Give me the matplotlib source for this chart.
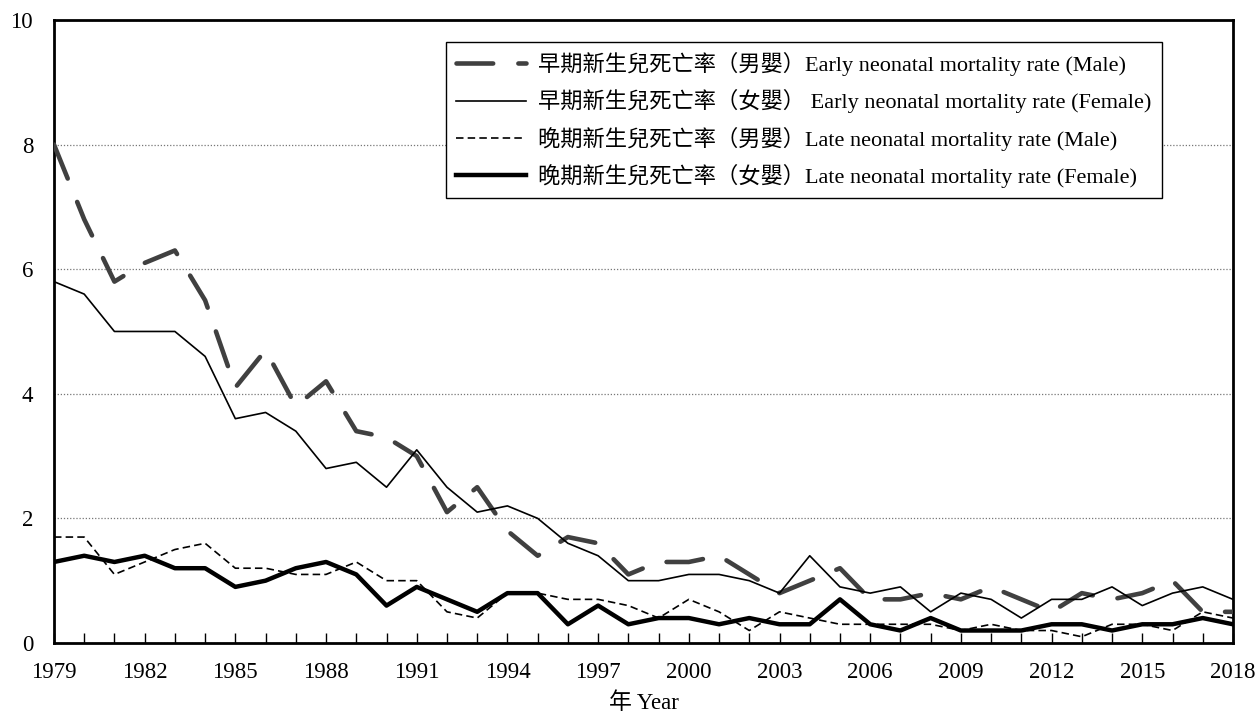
"""early and late neonatal mortality rate by sex, 1979-2018"""
import matplotlib
matplotlib.use("Agg")
import matplotlib.pyplot as plt
from matplotlib.ticker import MultipleLocator

years = list(range(1979, 2019))

early_male = [8.0, 6.8, 5.8, 6.1, 6.3, 5.5, 4.1, 4.7, 3.8, 4.2,
              3.4, 3.3, 3.0, 2.1, 2.5, 1.8, 1.4, 1.7, 1.6, 1.1,
              1.3, 1.3, 1.4, 1.1, 0.8, 1.0, 1.2, 0.7, 0.7, 0.8,
              0.7, 0.9, 0.7, 0.5, 0.8, 0.7, 0.8, 1.0, 0.5, 0.5]
early_female = [5.8, 5.6, 5.0, 5.0, 5.0, 4.6, 3.6, 3.7, 3.4, 2.8,
                2.9, 2.5, 3.1, 2.5, 2.1, 2.2, 2.0, 1.6, 1.4, 1.0,
                1.0, 1.1, 1.1, 1.0, 0.8, 1.4, 0.9, 0.8, 0.9, 0.5,
                0.8, 0.7, 0.4, 0.7, 0.7, 0.9, 0.6, 0.8, 0.9, 0.7]
late_male = [1.7, 1.7, 1.1, 1.3, 1.5, 1.6, 1.2, 1.2, 1.1, 1.1,
             1.3, 1.0, 1.0, 0.5, 0.4, 0.8, 0.8, 0.7, 0.7, 0.6,
             0.4, 0.7, 0.5, 0.2, 0.5, 0.4, 0.3, 0.3, 0.3, 0.3,
             0.2, 0.3, 0.2, 0.2, 0.1, 0.3, 0.3, 0.2, 0.5, 0.4]
late_female = [1.3, 1.4, 1.3, 1.4, 1.2, 1.2, 0.9, 1.0, 1.2, 1.3,
               1.1, 0.6, 0.9, 0.7, 0.5, 0.8, 0.8, 0.3, 0.6, 0.3,
               0.4, 0.4, 0.3, 0.4, 0.3, 0.3, 0.7, 0.3, 0.2, 0.4,
               0.2, 0.2, 0.2, 0.3, 0.3, 0.2, 0.3, 0.3, 0.4, 0.3]

labels = [
    "早期新生兒死亡率（男嬰）Early neonatal mortality rate (Male)",
    "早期新生兒死亡率（女嬰） Early neonatal mortality rate (Female)",
    "晚期新生兒死亡率（男嬰）Late neonatal mortality rate (Male)",
    "晚期新生兒死亡率（女嬰）Late neonatal mortality rate (Female)",
]
xtick_years = list(range(1979, 2019, 3))

fonts = ["Liberation Serif", "Noto Sans CJK TC", "DejaVu Sans"]
plt.rcParams["font.family"] = fonts

fig = plt.figure(figsize=(12.58, 7.18), dpi=100)
ax = fig.add_axes([0.0429, 0.1045, 0.9372, 0.8677])

ax.plot(years, early_male, color="#404040", lw=3.3, dashes=(8.0, 5.5),
        dash_capstyle="round", label=labels[0], zorder=3)
ax.plot(years, early_female, color="black", lw=1.2, label=labels[1], zorder=3)
ax.plot(years, late_male, color="black", lw=1.2, dashes=(4.5, 2.5),
        label=labels[2], zorder=3)
ax.plot(years, late_female, color="black", lw=3.2, label=labels[3], zorder=3)

ax.set_xlim(1979, 2018)
ax.set_ylim(0, 10)
ax.set_xticks(xtick_years)
ax.xaxis.set_minor_locator(MultipleLocator(1))
ax.yaxis.set_major_locator(MultipleLocator(2))
ax.tick_params(axis="x", which="both", direction="in", length=7, width=1,
               labelsize=16.5, pad=13.5)
ax.tick_params(axis="y", length=0, labelsize=16.5, pad=15)
ax.grid(axis="y", linestyle=(0, (1, 1.5)), color="#777777", lw=0.9)
for sp in ax.spines.values():
    sp.set_linewidth(2)

ax.set_xlabel("年 Year", fontsize=16.5, labelpad=7)

leg = ax.legend(loc="upper left", bbox_to_anchor=(0.3325, 0.9647),
                borderaxespad=0, fontsize=16, handlelength=3.15,
                handletextpad=0.55, labelspacing=0.6, borderpad=0.45,
                fancybox=False, framealpha=1, edgecolor="black")
leg.get_frame().set_linewidth(1)

fig.savefig("out.png", dpi=100)
